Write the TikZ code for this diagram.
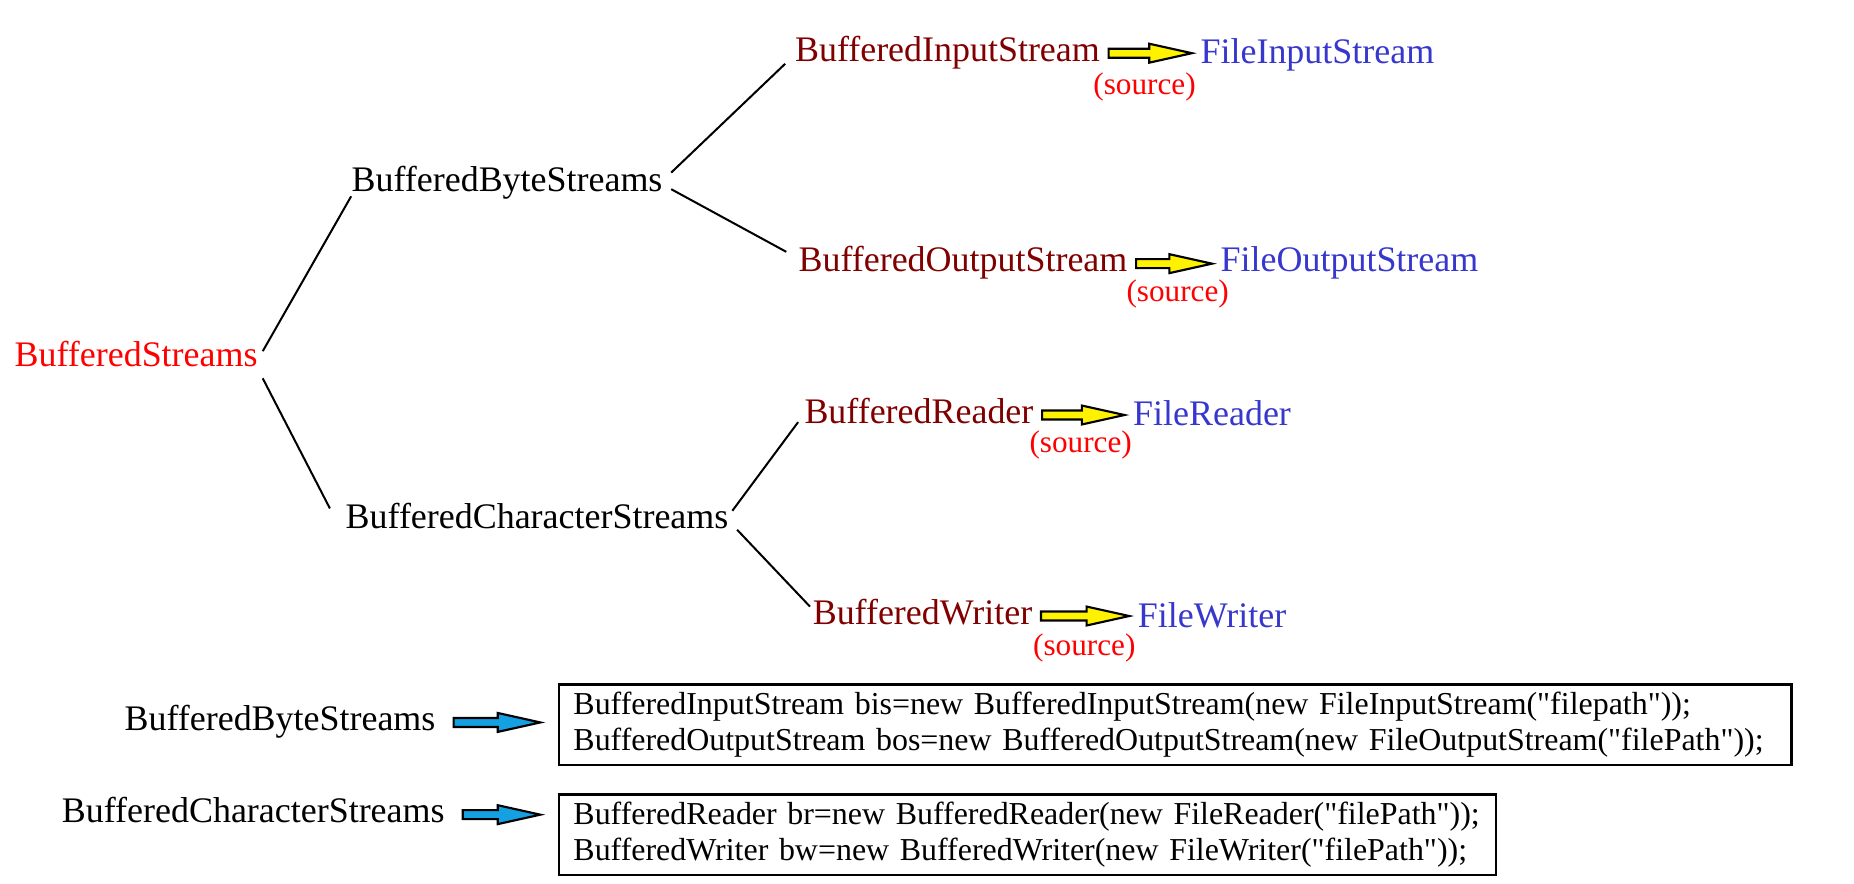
\documentclass[tikz,border=0pt]{standalone}
\usepackage{fontspec}
\setmainfont{Liberation Serif}
\usepackage{tikz}
\usetikzlibrary{calc}
\definecolor{darkred}{RGB}{128,0,0}
\definecolor{fileblue}{RGB}{55,55,205}
\definecolor{arrowblue}{RGB}{20,160,225}
\newcommand{\blockarrow}[4]{\draw[line width=0.9pt, fill=#3] let \p1=(#1.east), \p2=(#2.west) in
    (\x1+#4, \y1+1.9pt) -- (\x2-#4-18pt, \y1+1.9pt) -- (\x2-#4-18pt, \y1+4pt) -- (\x2-#4, \y1)
    -- (\x2-#4-18pt, \y1-4pt) -- (\x2-#4-18pt, \y1-1.9pt) -- (\x1+#4, \y1-1.9pt) -- cycle;}
\newcommand{\qd}{\textquotedbl}
\tikzset{
    label/.style={inner sep=0pt, anchor=base west, font=\fontsize{15.2}{18}\selectfont, text height=10.3pt, text depth=3.3pt},
    source/.style={inner sep=0pt, anchor=base, text=red, font=\fontsize{13.2}{15.25}\selectfont},
    codebox/.style={draw, line width=1pt, align=left, anchor=north west, inner xsep=6pt, inner ysep=3.2pt, font=\fontsize{13.5}{15.25}\selectfont},
    branch/.style={line width=0.85pt}
}

\begin{document}
\begin{tikzpicture}[x=0.5pt, y=-0.5pt]
    \useasboundingbox (0, 0) rectangle (1568, 747);
    \node[label, text=red] (bs) at (12, 310) {BufferedStreams};
    \node[label] (bbs) at (297, 162) {BufferedByteStreams};
    \node[label] (bcs) at (292, 447) {BufferedCharacterStreams};
    \node[label, text=darkred] (bis) at (672, 52) {BufferedInputStream};
    \node[label, text=darkred] (bos) at (675, 230) {BufferedOutputStream};
    \node[label, text=darkred] (br) at (680, 358) {BufferedReader};
    \node[label, text=darkred] (bw) at (687, 528) {BufferedWriter};
    \node[label, text=fileblue] (fis) at (1015, 54) {FileInputStream};
    \node[label, text=fileblue] (fos) at (1032, 230) {FileOutputStream};
    \node[label, text=fileblue] (fr) at (958, 360) {FileReader};
    \node[label, text=fileblue] (fw) at (962, 531) {FileWriter};
    \node[source] (src1) at (968, 80) {(source)};
    \node[source] (src2) at (996, 255) {(source)};
    \node[source] (src3) at (914, 383) {(source)};
    \node[source] (src4) at (917, 554) {(source)};

    \draw[branch] ([shift={(2pt,3pt)}]bs.east) -- ([yshift=1.5pt]bbs.south west);
    \draw[branch] ([shift={(2pt,-1.5pt)}]bs.south east) -- ([shift={(-6.5pt,-2pt)}]bcs.north west);
    \draw[branch] ([shift={(3.5pt,4.5pt)}]bbs.east) -- ([shift={(-4pt,2.5pt)}]bis.south west);
    \draw[branch] ([shift={(3.5pt,-2.5pt)}]bbs.east) -- ([shift={(-5pt,5pt)}]bos.west);
    \draw[branch] ([shift={(1.5pt,4pt)}]bcs.east) -- ([shift={(-2.5pt,4pt)}]br.south west);
    \draw[branch] ([shift={(3.5pt,-4pt)}]bcs.east) -- ([shift={(-1pt,-3pt)}]bw.north west);

    \blockarrow{bis}{fis}{yellow}{3.5pt}
    \blockarrow{bos}{fos}{yellow}{3.5pt}
    \blockarrow{br}{fr}{yellow}{3.5pt}
    \blockarrow{bw}{fw}{yellow}{3.5pt}

    \node[label] (bbs2) at (105, 618) {BufferedByteStreams};
    \node[label] (bcs2) at (52, 696) {BufferedCharacterStreams};
    \node[codebox, text width=509pt] (bytecode) at (472, 578) {BufferedInputStream bis=new BufferedInputStream(new FileInputStream(\qd filepath\qd));\\BufferedOutputStream bos=new BufferedOutputStream(new FileOutputStream(\qd filePath\qd));};
    \node[codebox, text width=384pt] (charcode) at (472, 671) {BufferedReader br=new BufferedReader(new FileReader(\qd filePath\qd));\\BufferedWriter bw=new BufferedWriter(new FileWriter(\qd filePath\qd));};
    \blockarrow{bbs2}{bytecode}{arrowblue}{7.5pt}
    \blockarrow{bcs2}{charcode}{arrowblue}{7.5pt}
\end{tikzpicture}
\end{document}
